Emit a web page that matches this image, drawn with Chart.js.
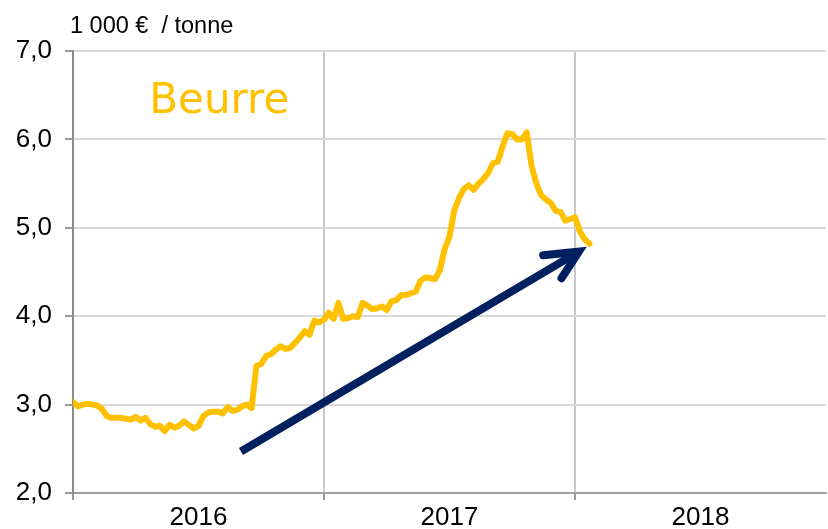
<!DOCTYPE html>
<html>
<head>
<meta charset="utf-8">
<script src="https://cdn.jsdelivr.net/npm/chart.js@4/dist/chart.umd.min.js"></script>
<style>
  body { margin: 0; background: #fff; }
  #wrap { width: 828px; height: 529px; }
</style>
</head>
<body>
<div id="wrap"><canvas id="chartData" width="828" height="529"></canvas></div>
<script>
// weekly butter price, 1 000 EUR / tonne, week 0 = start of 2016
var beurre = [
  3.03, 2.98, 3.00, 3.01, 3.00, 2.99, 2.95, 2.87, 2.85, 2.85,
  2.85, 2.84, 2.83, 2.86, 2.82, 2.85, 2.78, 2.75, 2.76, 2.70,
  2.77, 2.74, 2.76, 2.81, 2.77, 2.73, 2.76, 2.87, 2.91, 2.92,
  2.92, 2.90, 2.97, 2.93, 2.94, 2.98, 3.00, 2.96, 3.44, 3.46,
  3.55, 3.57, 3.62, 3.66, 3.63, 3.64, 3.70, 3.76, 3.83, 3.79,
  3.95, 3.93, 3.96, 4.04, 3.97, 4.15, 3.97, 3.98, 4.00, 3.99,
  4.15, 4.12, 4.08, 4.09, 4.11, 4.07, 4.17, 4.18, 4.24, 4.24,
  4.26, 4.28, 4.40, 4.44, 4.43, 4.42, 4.52, 4.76, 4.90, 5.20,
  5.34, 5.44, 5.48, 5.43, 5.50, 5.55, 5.62, 5.73, 5.75, 5.92,
  6.07, 6.06, 6.00, 6.00, 6.08, 5.70, 5.50, 5.37, 5.32, 5.28,
  5.19, 5.18, 5.08, 5.10, 5.12, 4.96, 4.87, 4.82
];

var years = ["2016", "2017", "2018"];
var yTicks = [2, 3, 4, 5, 6, 7];

// trend arrow, in (week, value)
var arrowShaft = [[34.8, 2.47], [104.8, 4.73]];
var arrowHead = [[97.4, 4.69], [104.8, 4.73], [101.2, 4.43]];

var seriesLabel = "Beurre";
var labelPos = [30.3, 6.30];
var unitText = "1 000 \u20ac  / tonne";

function toPoints(arr) {
  return arr.map(function (p) { return { x: p[0], y: p[1] }; });
}

var extraText = {
  id: 'extraText',
  afterDraw: function (chart) {
    var ctx = chart.ctx;
    var xs = chart.scales.x, ys = chart.scales.y;
    ctx.save();
    ctx.fillStyle = '#FFC000';
    ctx.font = '42px "DejaVu Sans"';
    ctx.textAlign = 'center';
    ctx.textBaseline = 'alphabetic';
    ctx.fillText(seriesLabel, xs.getPixelForValue(labelPos[0]), ys.getPixelForValue(labelPos[1]));

    ctx.fillStyle = '#000';
    ctx.font = '23.5px "Liberation Sans"';
    ctx.textAlign = 'left';
    ctx.fillText(unitText, chart.chartArea.left - 3, chart.chartArea.top - 18);
    ctx.restore();
  }
};

new Chart(document.getElementById('chartData').getContext('2d'), {
  type: 'line',
  data: {
    datasets: [
      {
        label: seriesLabel,
        data: beurre.map(function (v, i) { return { x: i, y: v }; }),
        borderColor: '#FFC000',
        borderWidth: 6,
        pointRadius: 0,
        tension: 0,
        borderJoinStyle: 'round',
        borderCapStyle: 'round'
      },
      {
        label: 'tendance',
        data: toPoints(arrowShaft),
        borderColor: '#002060',
        borderWidth: 8,
        pointRadius: 0,
        borderCapStyle: 'butt'
      },
      {
        label: 'pointe',
        data: toPoints(arrowHead),
        borderColor: '#002060',
        borderWidth: 8,
        pointRadius: 0,
        borderJoinStyle: 'miter',
        borderCapStyle: 'round'
      }
    ]
  },
  options: {
    responsive: false,
    animation: false,
    layout: { padding: { top: 51, right: -4, left: 0, bottom: 0 } },
    plugins: {
      legend: { display: false },
      tooltip: { enabled: false }
    },
    scales: {
      x: {
        type: 'linear',
        min: 0,
        max: 156,
        afterFit: function (scale) { scale.height = 36; },
        afterBuildTicks: function (scale) {
          scale.ticks = [0, 26, 52, 78, 104, 130, 156].map(function (v) { return { value: v }; });
        },
        ticks: {
          autoSkip: false,
          maxRotation: 0,
          padding: 2,
          color: '#000',
          font: { family: 'Liberation Sans', size: 26 },
          callback: function (v) {
            if (v % 52 === 26) return years[(v - 26) / 52];
            return '';
          }
        },
        grid: {
          lineWidth: 2,
          tickLength: 7,
          color: function (c) {
            var v = c.tick ? c.tick.value : null;
            return (v === 52 || v === 104) ? '#c8c8c8' : 'rgba(0,0,0,0)';
          },
          tickColor: function (c) {
            var v = c.tick ? c.tick.value : null;
            return (v === 0 || v === 52 || v === 104) ? '#999' : 'rgba(0,0,0,0)';
          }
        },
        border: { color: '#a0a0a0', width: 2 }
      },
      y: {
        min: 2,
        max: 7,
        afterFit: function (scale) { scale.width = 73; },
        afterBuildTicks: function (scale) {
          scale.ticks = yTicks.map(function (v) { return { value: v }; });
        },
        ticks: {
          padding: 13,
          color: '#000',
          font: { family: 'Liberation Sans', size: 26 },
          callback: function (v) { return v.toFixed(1).replace('.', ','); }
        },
        grid: {
          lineWidth: 2,
          tickLength: 8,
          color: '#d9d9d9',
          tickColor: '#999'
        },
        border: { color: '#8c8c8c', width: 2 }
      }
    }
  },
  plugins: [extraText]
});
</script>
</body>
</html>
